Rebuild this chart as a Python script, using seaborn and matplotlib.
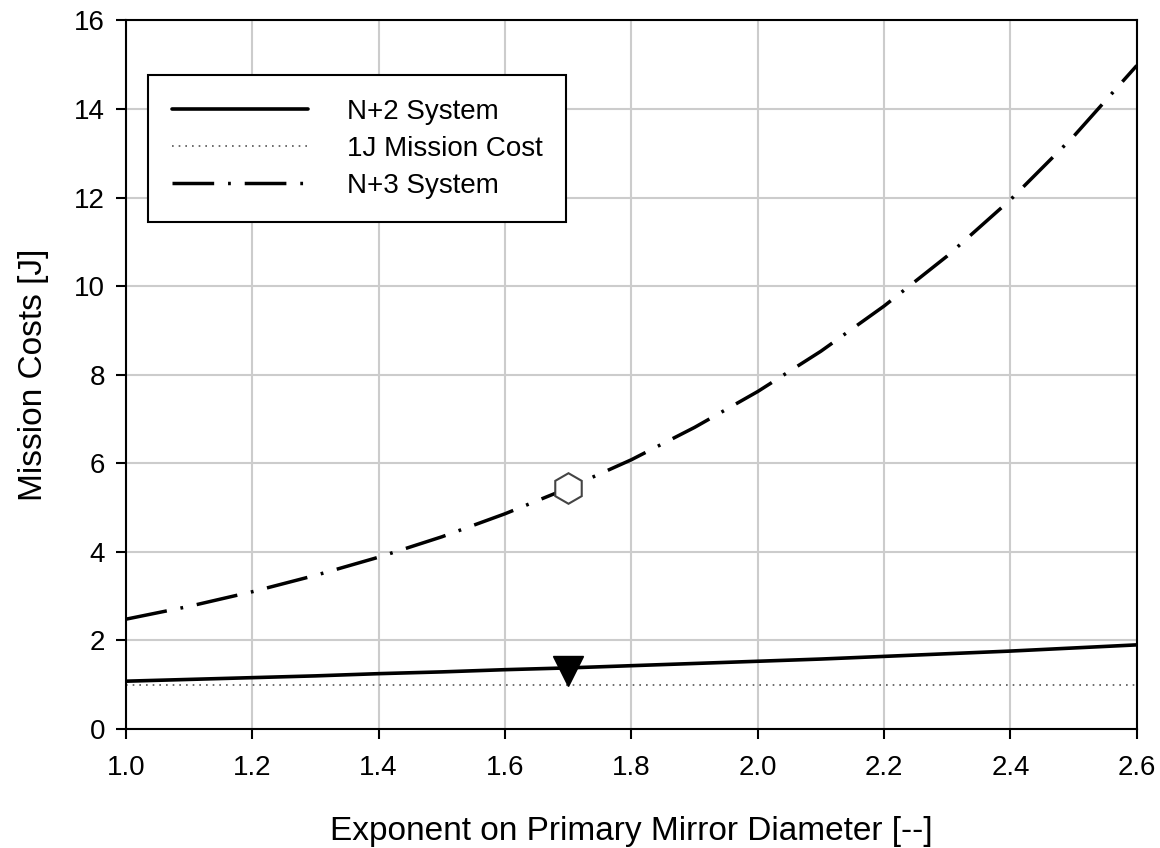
import numpy as np
import pandas as pd
import matplotlib.pyplot as plt
import seaborn as sns

sns.set_theme(style="whitegrid")
plt.rcParams["font.family"] = ["Liberation Sans", "DejaVu Sans"]

exponent = [1.0, 1.1, 1.2, 1.3, 1.4, 1.5, 1.6, 1.7, 1.8, 1.9, 2.0, 2.1, 2.2, 2.3, 2.4, 2.5, 2.6]
n2_cost = [1.08, 1.12, 1.16, 1.20, 1.25, 1.29, 1.34, 1.38, 1.43, 1.48, 1.53, 1.58, 1.64, 1.70, 1.76, 1.83, 1.90]
n3_cost = [2.48, 2.77, 3.10, 3.47, 3.88, 4.34, 4.86, 5.44, 6.08, 6.81, 7.62, 8.53, 9.55, 10.68, 11.95, 13.38, 14.98]
one_j = [1.0] * len(exponent)

design_x = 1.7
design_n2 = 1.32
design_n3 = 5.45

df = pd.DataFrame({"x": exponent, "N+2 System": n2_cost,
                   "1J Mission Cost": one_j, "N+3 System": n3_cost})

fig, ax = plt.subplots(figsize=(11.6, 8.48), dpi=100)
fig.subplots_adjust(left=0.1086, right=0.980, bottom=0.1403, top=0.976)

sns.lineplot(data=df, x="x", y="N+2 System", ax=ax, color="black", lw=2.6,
             label="N+2 System")
sns.lineplot(data=df, x="x", y="1J Mission Cost", ax=ax, color="#555555", lw=1.2,
             linestyle=(0, (1, 3)), label="1J Mission Cost")
sns.lineplot(data=df, x="x", y="N+3 System", ax=ax, color="black", lw=2.5,
             linestyle=(0, (12, 4, 0.8, 4)), label="N+3 System")

ax.plot([design_x], [design_n2], marker="v", ms=21, color="black", zorder=5)
ax.plot([design_x], [design_n3], marker="h", ms=22, mfc="white", mec="#444444",
        mew=1.5, zorder=5, linestyle="none")

ax.set_xlim(1.0, 2.6)
ax.set_ylim(0, 16)
ax.set_xticks(np.arange(1.0, 2.61, 0.2))
ax.set_xticklabels([f"{v:.1f}" for v in np.arange(1.0, 2.61, 0.2)])
ax.set_yticks(range(0, 17, 2))
ax.grid(True, color="#cccccc", lw=1.5)
for s in ax.spines.values():
    s.set_color("black")
    s.set_linewidth(1.5)
ax.tick_params(axis="both", labelsize=20, direction="out", length=7, width=1.5,
               color="black", labelcolor="black", left=True, bottom=True, pad=8)
ax.tick_params(axis="x", pad=12)

ax.set_xlabel("Exponent on Primary Mirror Diameter [--]", fontsize=24, labelpad=25,
              color="black")
ax.set_ylabel("Mission Costs [J]", fontsize=24, labelpad=18, color="black")

leg = ax.legend(loc="upper left", bbox_to_anchor=(0.0218, 0.923), fontsize=20,
                handlelength=4.9, handletextpad=1.4, frameon=True, fancybox=False,
                borderpad=0.85, labelspacing=0.4, borderaxespad=0)
leg.get_frame().set_edgecolor("black")
leg.get_frame().set_linewidth(1.5)
leg.get_frame().set_alpha(1)
for t in leg.get_texts():
    t.set_color("black")

plt.savefig("out.png")
